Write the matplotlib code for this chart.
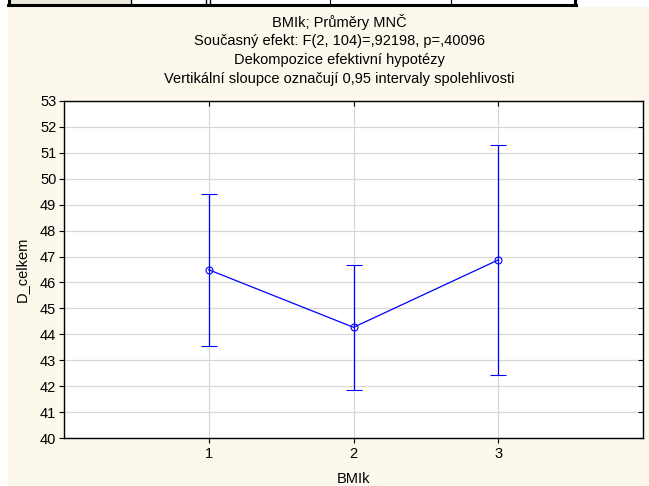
import matplotlib
matplotlib.use("Agg")
import matplotlib.pyplot as plt
from matplotlib.patches import Rectangle
from matplotlib.lines import Line2D

plt.rcParams['font.family'] = ['Liberation Sans', 'DejaVu Sans']

# BMIk groups, LS means of D_celkem with 0.95 confidence limits
groups = [1, 2, 3]
means = [46.49, 44.27, 46.87]
upper = [49.42, 46.68, 51.31]
lower = [43.55, 41.85, 42.43]

title_lines = ["BMIk; Průměry MNČ",
               "Současný efekt: F(2, 104)=,92198, p=,40096",
               "Dekompozice efektivní hypotézy",
               "Vertikální sloupce označují 0,95 intervaly spolehlivosti"]

W, H = 649, 486
fs = 10.5
fig = plt.figure(figsize=(W / 100, H / 100), dpi=100, facecolor='white')

# cream panel behind the graph
fig.patches.append(Rectangle((8 / W, 0), 1 - 8 / W, (H - 7) / H,
                             transform=fig.transFigure, facecolor='#fdf8ec',
                             edgecolor='none', zorder=0))

# cropped strip of the spreadsheet above the graph
fig.patches.append(Rectangle((9 / W, (H - 4) / H), 122 / W, 4 / H,
                             transform=fig.transFigure, facecolor='#ece9d8',
                             edgecolor='none', zorder=1))
fig.lines.append(Line2D([8 / W, 576 / W], [(H - 5) / H] * 2,
                        transform=fig.transFigure, color='black', lw=2.2))
for xv, lw in [(9, 2.2), (131, 1.0), (206, 1.0), (210, 1.0),
               (330, 0.8), (451, 0.8), (575, 2.2)]:
    fig.lines.append(Line2D([xv / W] * 2, [(H - 5) / H, 1],
                            transform=fig.transFigure, color='black', lw=lw))

ax = fig.add_axes([64 / W, (H - 438) / H, 579 / W, 337 / H])
ax.set_zorder(5)
ax.set_facecolor('white')

yerr = [[m - l for m, l in zip(means, lower)],
        [u - m for m, u in zip(means, upper)]]
ax.errorbar(groups, means, yerr=yerr, color='#0000ff', ecolor='#0000ff',
            lw=0.9, elinewidth=0.9, capsize=5.5, capthick=0.9,
            marker='o', markersize=5, markerfacecolor='none',
            markeredgecolor='#0000ff', markeredgewidth=0.8, zorder=3)

ax.set_xlim(0, 4)
ax.set_ylim(40, 53)
ax.set_xticks(groups)
ax.set_yticks(range(40, 54))
ax.grid(True, color='#d8d8d8', lw=0.9)
ax.set_axisbelow(True)

for s in ax.spines.values():
    s.set_linewidth(1.0)
ax.tick_params(axis='both', labelsize=fs, width=0.8, length=3.5,
               colors='black')
ax.tick_params(axis='y', direction='out', right=True, pad=2)
ax.tick_params(axis='x', direction='out', top=True, pad=3)
for t in ax.yaxis.get_ticklines()[1::2]:
    t.set_marker(0)
for t in ax.xaxis.get_ticklines()[1::2]:
    t.set_marker(3)

ax.set_ylabel("D_celkem", fontsize=fs, labelpad=8)
ax.set_xlabel("BMIk", fontsize=fs, labelpad=8)

for i, line in enumerate(title_lines):
    fig.text(339 / W, 1 - (22 + 19 * i) / H, line, ha='center', va='center',
             fontsize=fs)

fig.savefig("out.png", dpi=100, facecolor=fig.get_facecolor())
